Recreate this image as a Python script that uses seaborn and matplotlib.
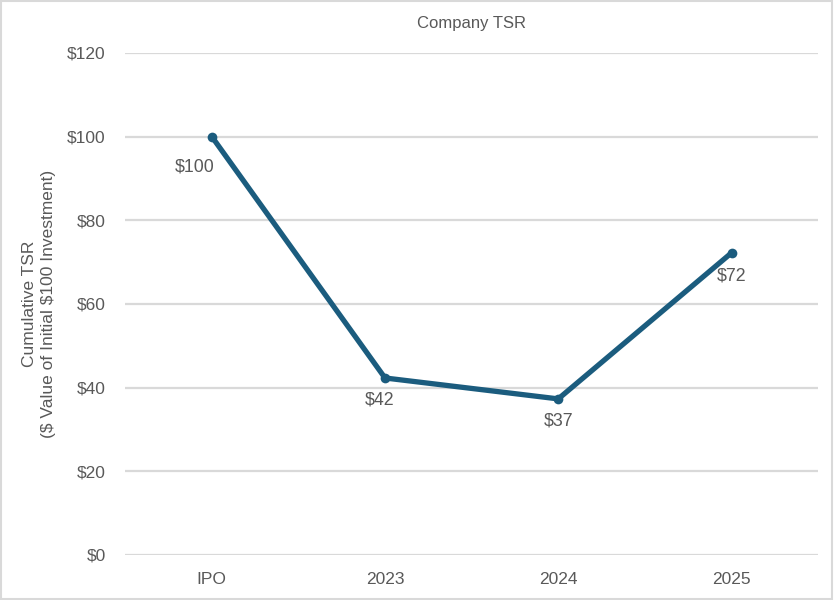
import matplotlib
matplotlib.use("Agg")
import matplotlib.pyplot as plt
import seaborn as sns
import pandas as pd
from matplotlib.patches import Rectangle

# data
periods = ["IPO", "2023", "2024", "2025"]
tsr_values = [100, 42.3, 37.3, 72.2]
value_labels = ["\\$100", "\\$42", "\\$37", "\\$72"]

LINE_COLOR = "#1B5C7E"
TEXT_COLOR = "#595959"
GRID_COLOR = "#D9D9D9"

sns.set_theme(style="white")
plt.rcParams["font.family"] = ["Liberation Sans", "DejaVu Sans"]

df = pd.DataFrame({"period": periods, "tsr": tsr_values})

fig = plt.figure(figsize=(8.34, 6.0), dpi=100)
ax = fig.add_axes([0.150, 0.075, 0.831, 0.837])

sns.lineplot(data=df, x="period", y="tsr", ax=ax, color=LINE_COLOR,
             linewidth=3.8, marker="o", markersize=7, markeredgewidth=0,
             solid_capstyle="round", sort=False)

# data labels, placed below each point like the original
offsets = [(-12, -22), (-4, -16), (0, -16), (0, -17)]
for i, (v, lab) in enumerate(zip(tsr_values, value_labels)):
    ax.annotate(lab, (i, v), xytext=offsets[i], textcoords="offset points",
                ha="center", va="center", fontsize=12.8, color=TEXT_COLOR)

ax.set_xlim(-0.5, len(periods) - 0.5)
ax.set_ylim(0, 120)
ax.set_yticks(range(0, 121, 20))
ax.set_yticklabels([f"\\${t}" for t in range(0, 121, 20)])
ax.yaxis.grid(True, color=GRID_COLOR, linewidth=1.6)
ax.set_axisbelow(True)
for s in ax.spines.values():
    s.set_visible(False)
ax.tick_params(axis="both", length=0, labelsize=12.5, labelcolor=TEXT_COLOR)
ax.tick_params(axis="y", pad=14)
ax.tick_params(axis="x", pad=12)

ax.set_xlabel("")
ax.set_ylabel("Cumulative TSR\n(\\$ Value of Initial \\$100 Investment)",
              fontsize=12.5, color=TEXT_COLOR, labelpad=8, linespacing=1.35)
ax.set_title("Company TSR", fontsize=12, color=TEXT_COLOR, pad=18)

# light frame around the whole chart
fig.patches.append(Rectangle((0.001, 0.001), 0.997, 0.997, transform=fig.transFigure,
                             fill=False, edgecolor="#D9D9D9", linewidth=1.5))

fig.savefig("out.png", dpi=100)
